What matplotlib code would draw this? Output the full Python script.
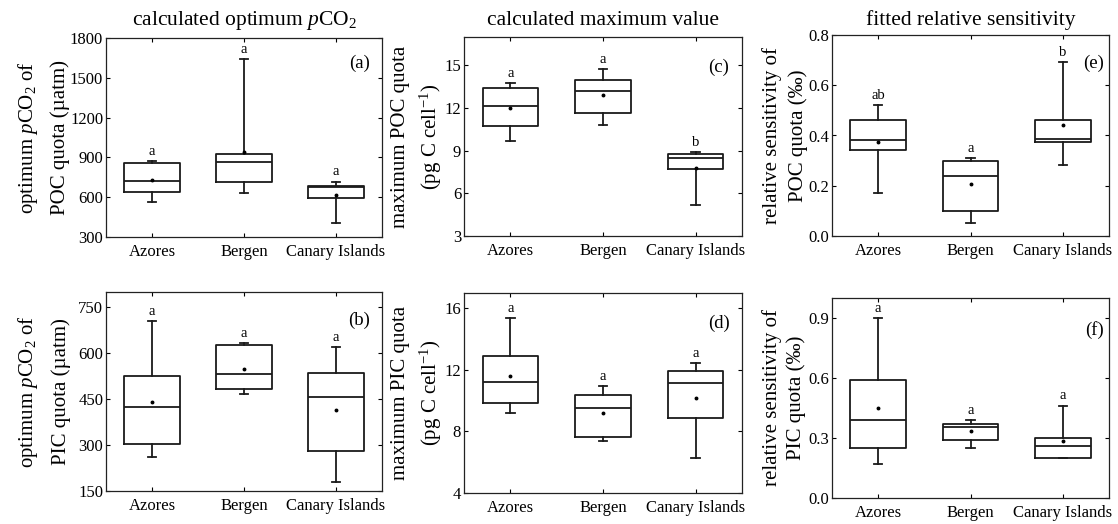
import matplotlib
matplotlib.use("Agg")
import matplotlib.pyplot as plt
from matplotlib.ticker import FormatStrFormatter

plt.rcParams['font.family'] = ['Liberation Serif', 'DejaVu Serif']
plt.rcParams['mathtext.fontset'] = 'custom'
plt.rcParams['mathtext.rm'] = 'Liberation Serif'
plt.rcParams['mathtext.it'] = 'Liberation Serif:italic'

groups = ['Azores', 'Bergen', 'Canary Islands']

# (a) optimum pCO2 of POC quota
a_whislo = [567, 632, 406]
a_q1 = [642, 713, 597]
a_med = [720, 869, 675]
a_q3 = [859, 929, 685]
a_whishi = [871, 1641, 718]
a_mean = [728, 937, 620]
a_letters = ['a', 'a', 'a']

# (c) maximum POC quota
c_whislo = [9.68, 10.83, 5.18]
c_q1 = [10.73, 11.67, 7.69]
c_med = [12.12, 13.19, 8.46]
c_q3 = [13.40, 14.01, 8.74]
c_whishi = [13.78, 14.72, 8.88]
c_mean = [11.98, 12.94, 7.80]
c_letters = ['a', 'a', 'b']

# (e) relative sensitivity of POC quota
e_whislo = [0.173, 0.053, 0.281]
e_q1 = [0.341, 0.101, 0.373]
e_med = [0.381, 0.237, 0.388]
e_q3 = [0.461, 0.300, 0.461]
e_whishi = [0.521, 0.309, 0.692]
e_mean = [0.376, 0.207, 0.440]
e_letters = ['ab', 'a', 'b']

# (b) optimum pCO2 of PIC quota
b_whislo = [262, 467, 181]
b_q1 = [305, 484, 281]
b_med = [424, 531, 458]
b_q3 = [525, 628, 535]
b_whishi = [705, 632, 621]
b_mean = [441, 547, 415]
b_letters = ['a', 'a', 'a']

# (d) maximum PIC quota
d_whislo = [9.19, 7.36, 6.30]
d_q1 = [9.84, 7.62, 8.90]
d_med = [11.20, 9.53, 11.14]
d_q3 = [12.90, 10.36, 11.96]
d_whishi = [15.39, 10.94, 12.46]
d_mean = [11.62, 9.23, 10.16]
d_letters = ['a', 'a', 'a']

# (f) relative sensitivity of PIC quota
f_whislo = [0.171, 0.251, 0.200]
f_q1 = [0.251, 0.291, 0.200]
f_med = [0.391, 0.356, 0.261]
f_q3 = [0.590, 0.371, 0.300]
f_whishi = [0.900, 0.391, 0.462]
f_mean = [0.450, 0.336, 0.286]
f_letters = ['a', 'a', 'a']

W, H = 1118, 524
fig = plt.figure(figsize=(W / 100, H / 100), dpi=100)

panels = [
    dict(tag='(a)', box=(106, 38, 382, 237), data=(a_whislo, a_q1, a_med, a_q3, a_whishi, a_mean), letters=a_letters,
         ylim=(300, 1800), yticks=[300, 600, 900, 1200, 1500, 1800], fmt='%d',
         yl=(r'optimum $p$CO$_2$ of', 'POC quota (\u00b5atm)'), ylx=(28, 60),
         title=r'calculated optimum $p$CO$_2$', tagpos=(0.958, 0.875)),
    dict(tag='(c)', box=(464, 37, 742, 236), data=(c_whislo, c_q1, c_med, c_q3, c_whishi, c_mean), letters=c_letters,
         ylim=(3, 17), yticks=[3, 6, 9, 12, 15], fmt='%d',
         yl=('maximum POC quota', r'(pg C cell$^{-1}$)'), ylx=(401, 431),
         title='calculated maximum value', tagpos=(0.952, 0.85)),
    dict(tag='(e)', box=(832, 35, 1109, 236), data=(e_whislo, e_q1, e_med, e_q3, e_whishi, e_mean), letters=e_letters,
         ylim=(0, 0.8), yticks=[0.0, 0.2, 0.4, 0.6, 0.8], fmt='%.1f',
         yl=('relative sensitivity of', 'POC quota (\u2030)'), ylx=(772, 798),
         title='fitted relative sensitivity', tagpos=(0.982, 0.86)),
    dict(tag='(b)', box=(106, 292, 382, 491), data=(b_whislo, b_q1, b_med, b_q3, b_whishi, b_mean), letters=b_letters,
         ylim=(150, 800), yticks=[150, 300, 450, 600, 750], fmt='%d',
         yl=(r'optimum $p$CO$_2$ of', 'PIC quota (\u00b5atm)'), ylx=(28, 61),
         title=None, tagpos=(0.958, 0.86)),
    dict(tag='(d)', box=(464, 293, 742, 493), data=(d_whislo, d_q1, d_med, d_q3, d_whishi, d_mean), letters=d_letters,
         ylim=(4, 17), yticks=[4, 8, 12, 16], fmt='%d',
         yl=('maximum PIC quota', r'(pg C cell$^{-1}$)'), ylx=(401, 431),
         title=None, tagpos=(0.957, 0.85)),
    dict(tag='(f)', box=(832, 298, 1109, 498), data=(f_whislo, f_q1, f_med, f_q3, f_whishi, f_mean), letters=f_letters,
         ylim=(0, 1.0), yticks=[0.0, 0.3, 0.6, 0.9], fmt='%.1f',
         yl=('relative sensitivity of', 'PIC quota (\u2030)'), ylx=(772, 796),
         title=None, tagpos=(0.98, 0.84)),
]

lc = '#1a1a1a'
for p in panels:
    x0, y0, x1, y1 = p['box']
    ax = fig.add_axes([x0 / W, 1 - y1 / H, (x1 - x0) / W, (y1 - y0) / H])
    wlo, q1, med, q3, whi, mean = p['data']
    stats = []
    for i, g in enumerate(groups):
        stats.append(dict(label=g, whislo=wlo[i], q1=q1[i], med=med[i], q3=q3[i],
                          whishi=whi[i], mean=mean[i], fliers=[]))
    ax.bxp(stats, positions=[1, 2, 3], widths=0.6, capwidths=0.09, showmeans=True,
           showfliers=False,
           boxprops=dict(color=lc, linewidth=1.3),
           medianprops=dict(color=lc, linewidth=1.3),
           whiskerprops=dict(color=lc, linewidth=1.3),
           capprops=dict(color=lc, linewidth=1.3),
           meanprops=dict(marker='o', markersize=1.8, markerfacecolor='black',
                          markeredgecolor='black', linestyle='none'))
    for i in range(3):
        ax.annotate(p['letters'][i], (i + 1, whi[i]), xytext=(0, 4.5), textcoords='offset points',
                    ha='center', va='baseline', fontsize=10.5)
    ax.set_xlim(0.5, 3.5)
    ax.set_ylim(*p['ylim'])
    ax.set_yticks(p['yticks'])
    ax.yaxis.set_major_formatter(FormatStrFormatter(p['fmt']))
    ax.set_xticks([1, 2, 3])
    ax.set_xticklabels(groups)
    ax.tick_params(axis='both', direction='in', length=3, width=0.8, top=True, right=True,
                   labelsize=12, colors='black')
    ax.tick_params(axis='x', pad=5)
    ax.tick_params(axis='y', pad=2)
    for s in ax.spines.values():
        s.set_linewidth(0.9)
        s.set_color('#222222')
    ax.text(p['tagpos'][0], p['tagpos'][1], p['tag'], transform=ax.transAxes,
            ha='right', va='center', fontsize=13.5)
    yc = 1 - (y0 + y1) / 2 / H
    for txt, xp in zip(p['yl'], p['ylx']):
        fig.text(xp / W, yc, txt, rotation=90, ha='center', va='center', fontsize=15)
    if p['title']:
        fig.text((x0 + x1) / 2 / W, 1 - 25 / H, p['title'], ha='center', va='baseline', fontsize=15.5)

fig.savefig('out.png', dpi=100)
